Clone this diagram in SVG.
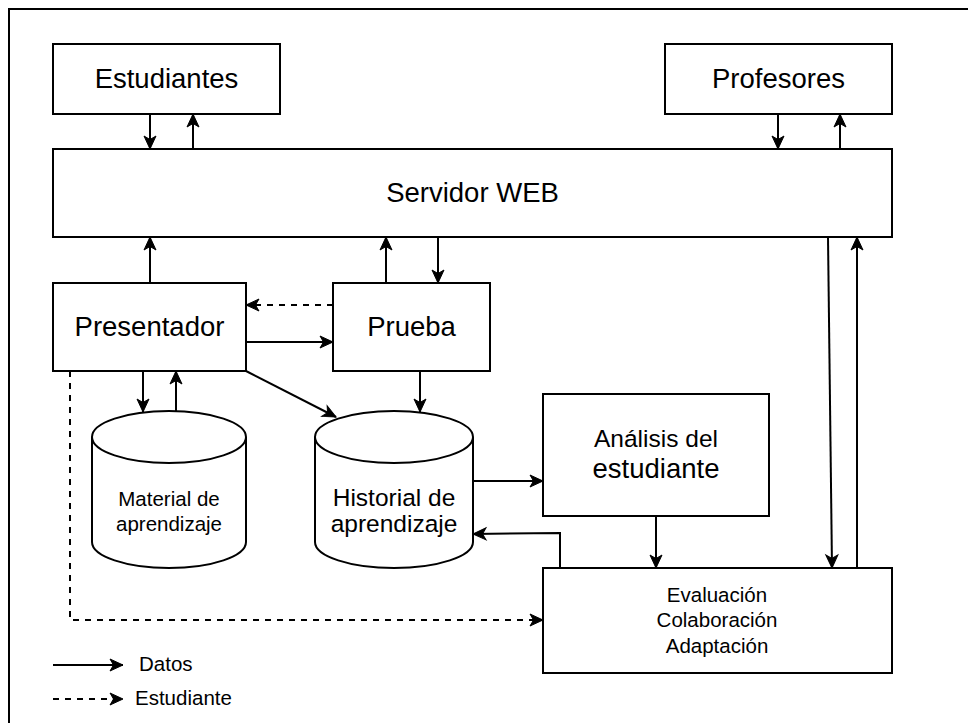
<svg xmlns="http://www.w3.org/2000/svg" width="968" height="723" viewBox="0 0 968 723">
<style>
.box{fill:#fff;stroke:#000;stroke-width:2}
.lbl{font-family:"Liberation Sans",Arial,sans-serif;fill:#000;text-anchor:middle}
.c{fill:none;stroke:#000;stroke-width:2}
.d{stroke-dasharray:6 6}
</style>
<defs>
<marker id="ah" markerUnits="userSpaceOnUse" markerWidth="16" markerHeight="14" refX="13" refY="6" orient="auto" overflow="visible">
<path d="M0,0 L13,6 L0,12 L3.5,6 Z" fill="#000" stroke="#000" stroke-width="1" stroke-linejoin="miter"/>
</marker>
</defs>
<rect x="9" y="9" width="975" height="730" fill="#fff" stroke="#000" stroke-width="2"/>

<g id="estudiantes"><rect class="box" x="53" y="44" width="227" height="70"/><text class="lbl" x="166.5" y="88" font-size="27.5">Estudiantes</text></g>
<g id="profesores"><rect class="box" x="665" y="44" width="227" height="70"/><text class="lbl" x="778.5" y="88" font-size="27.5">Profesores</text></g>
<g id="servidor"><rect class="box" x="53" y="149" width="839" height="88"/><text class="lbl" x="472.5" y="202" font-size="27.5">Servidor WEB</text></g>
<g id="presentador"><rect class="box" x="53" y="283" width="193" height="88"/><text class="lbl" x="149.5" y="336" font-size="27.5">Presentador</text></g>
<g id="prueba"><rect class="box" x="333" y="283" width="157" height="88"/><text class="lbl" x="411.5" y="336" font-size="27.5">Prueba</text></g>
<g id="material"><path class="box" d="M92,437 A77,26 0 0 1 246,437 L246,542 A77,26 0 0 1 92,542 Z"/><path class="c" d="M92,437 A77,26 0 0 0 246,437"/><text class="lbl" x="169" y="506" font-size="20.5">Material de</text><text class="lbl" x="169" y="531" font-size="20.5">aprendizaje</text></g>
<g id="historial"><path class="box" d="M315,437 A79,26 0 0 1 473,437 L473,542 A79,26 0 0 1 315,542 Z"/><path class="c" d="M315,437 A79,26 0 0 0 473,437"/><text class="lbl" x="394" y="506" font-size="24.5">Historial de</text><text class="lbl" x="394" y="532" font-size="24.5">aprendizaje</text></g>
<g id="analisis"><rect class="box" x="543" y="394" width="226" height="122"/><text class="lbl" x="656" y="447" font-size="24.5">Análisis del</text><text class="lbl" x="656" y="478" font-size="27.5">estudiante</text></g>
<g id="evaluacion"><rect class="box" x="543" y="568" width="349" height="105"/><text class="lbl" x="717" y="602" font-size="20.5">Evaluación</text><text class="lbl" x="717" y="627" font-size="20.5">Colaboración</text><text class="lbl" x="717" y="653" font-size="20.5">Adaptación</text></g>

<g id="connectors">
<path class="c" d="M150,114 L150,149" marker-end="url(#ah)"/>
<path class="c" d="M193,149 L193,114" marker-end="url(#ah)"/>
<path class="c" d="M778,114 L778,149" marker-end="url(#ah)"/>
<path class="c" d="M840,149 L840,114" marker-end="url(#ah)"/>
<path class="c" d="M150,283 L150,237" marker-end="url(#ah)"/>
<path class="c" d="M386,283 L386,237" marker-end="url(#ah)"/>
<path class="c" d="M438,237 L438,283" marker-end="url(#ah)"/>
<path class="c d" d="M333,305 L246,305" marker-end="url(#ah)"/>
<path class="c" d="M246,342 L333,342" marker-end="url(#ah)"/>
<path class="c" d="M143,371 L143,412" marker-end="url(#ah)"/>
<path class="c" d="M176,411 L176,371" marker-end="url(#ah)"/>
<path class="c" d="M246,371 L336,417" marker-end="url(#ah)"/>
<path class="c" d="M420,371 L420,412" marker-end="url(#ah)"/>
<path class="c" d="M473,481 L543,481" marker-end="url(#ah)"/>
<path class="c" d="M656,516 L656,568" marker-end="url(#ah)"/>
<path class="c" d="M560,568 L560,533 L473,534" marker-end="url(#ah)"/>
<path class="c d" d="M70,371 L70,620 L543,620" marker-end="url(#ah)"/>
<path class="c" d="M828,237 L832,568" marker-end="url(#ah)"/>
<path class="c" d="M857,568 L857,237" marker-end="url(#ah)"/>
</g>
<g id="legend">
<path class="c" d="M53,665 L123,665" marker-end="url(#ah)"/>
<text x="139" y="671" font-size="20.5" font-family="Liberation Sans, Arial, sans-serif">Datos</text>
<path class="c d" d="M53,699 L123,699" marker-end="url(#ah)"/>
<text x="135" y="705" font-size="20.5" font-family="Liberation Sans, Arial, sans-serif">Estudiante</text>
</g>
</svg>
